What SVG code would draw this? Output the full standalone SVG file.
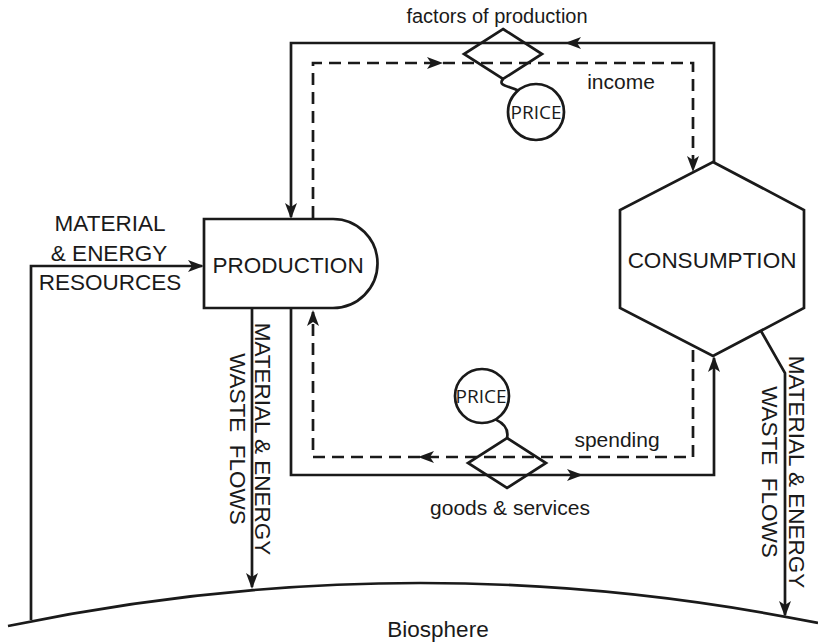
<svg xmlns="http://www.w3.org/2000/svg" xmlns:xlink="http://www.w3.org/1999/xlink" width="818" height="644" viewBox="0 0 818 644">
<style>
.ln{fill:none;stroke:#1a1a1a;stroke-width:2.7;stroke-linejoin:miter}
.dash{fill:none;stroke:#1a1a1a;stroke-width:2.7;stroke-dasharray:12 7}
.sh{fill:#fff;stroke:#1a1a1a;stroke-width:2.7}
.nf{fill:none;stroke:#1a1a1a;stroke-width:2.7}
.t{font-family:"Liberation Sans",Arial,sans-serif;fill:#1a1a1a}
.big{font-size:22.5px}
.lab{font-size:21px}
.sm{font-size:20px}
.pr{font-family:"Open Sans","Noto Sans",sans-serif;font-size:19px;fill:#1a1a1a}
.ah{fill:#1a1a1a}
</style>
<defs>
<path id="ah" d="M0,0 L-16,-6 L-12,0 L-16,6 Z"/>
</defs>
<g id="connectors">
<polyline class="ln" points="714,162 714,43 291,43 291,217"/>
<polyline class="dash" points="313,218 313,63 693,63 693,170"/>
<polyline class="ln" points="291,308 291,475 714,475 714,358"/>
<polyline class="dash" points="693,350 693,457 313,457 313,312"/>
<polyline class="ln" points="31,620 31,266 202,266"/>
<polyline class="ln" points="252,308 252,587"/>
<polyline class="ln" points="761,331 785,373 785,615"/>
<use href="#ah" class="ah" transform="translate(565,43) rotate(180)"/>
<use href="#ah" class="ah" transform="translate(291,219) rotate(90)"/>
<use href="#ah" class="ah" transform="translate(443,63)"/>
<use href="#ah" class="ah" transform="translate(693,172) rotate(90)"/>
<use href="#ah" class="ah" transform="translate(583,475)"/>
<use href="#ah" class="ah" transform="translate(714,356) rotate(-90)"/>
<use href="#ah" class="ah" transform="translate(418,457) rotate(180)"/>
<use href="#ah" class="ah" transform="translate(313,310) rotate(-90)"/>
<use href="#ah" class="ah" transform="translate(204,266)"/>
<use href="#ah" class="ah" transform="translate(252,589) rotate(90)"/>
<use href="#ah" class="ah" transform="translate(785,617) rotate(90)"/>
<path class="nf" d="M503,79 C497,86 510,86 518,90.5"/>
<path class="nf" d="M495.5,419.4 C503,423 509,429 507,438"/>
</g>
<g id="biosphere">
<path class="nf" d="M8,626 Q413,541.5 818,623"/>
<text class="t big" x="438" y="637" text-anchor="middle">Biosphere</text>
</g>
<g id="production">
<path class="sh" d="M204,219 H333 A44.5,44.5 0 0 1 333,308 H204 Z"/>
<text class="t big" x="288" y="273" text-anchor="middle">PRODUCTION</text>
</g>
<g id="consumption">
<polygon class="sh" points="713,162 804,210 804,308 713,356 620,308 620,210"/>
<text class="t big" x="712" y="268" text-anchor="middle">CONSUMPTION</text>
</g>
<g id="market-factors">
<polygon class="nf" points="503,29 542,54 503,79 464,54"/>
<circle class="nf" cx="536" cy="112" r="28"/>
<text class="pr" x="536" y="119" text-anchor="middle">PRICE</text>
<text class="t sm" x="497" y="23" text-anchor="middle">factors of production</text>
</g>
<g id="market-goods">
<polygon class="nf" points="507,438 546,463 507,488 468,463"/>
<circle class="nf" cx="482" cy="396" r="27"/>
<text class="pr" x="481" y="403" text-anchor="middle">PRICE</text>
<text class="t lab" x="510" y="515" text-anchor="middle">goods &amp; services</text>
</g>
<g id="labels">
<text class="t lab" x="621" y="89" text-anchor="middle">income</text>
<text class="t lab" x="617" y="447" text-anchor="middle">spending</text>
<text class="t big" x="110" y="231" text-anchor="middle">MATERIAL</text>
<text class="t big" x="109" y="261" text-anchor="middle">&amp; ENERGY</text>
<text class="t big" x="110" y="290" text-anchor="middle">RESOURCES</text>
<text class="t big" transform="translate(255,439) rotate(90)" text-anchor="middle">MATERIAL &amp; ENERGY</text>
<text class="t big" transform="translate(230,439) rotate(90)" text-anchor="middle" xml:space="preserve">WASTE  FLOWS</text>
<text class="t big" transform="translate(789,472) rotate(90)" text-anchor="middle">MATERIAL &amp; ENERGY</text>
<text class="t big" transform="translate(762,472) rotate(90)" text-anchor="middle" xml:space="preserve">WASTE  FLOWS</text>
</g>
</svg>
